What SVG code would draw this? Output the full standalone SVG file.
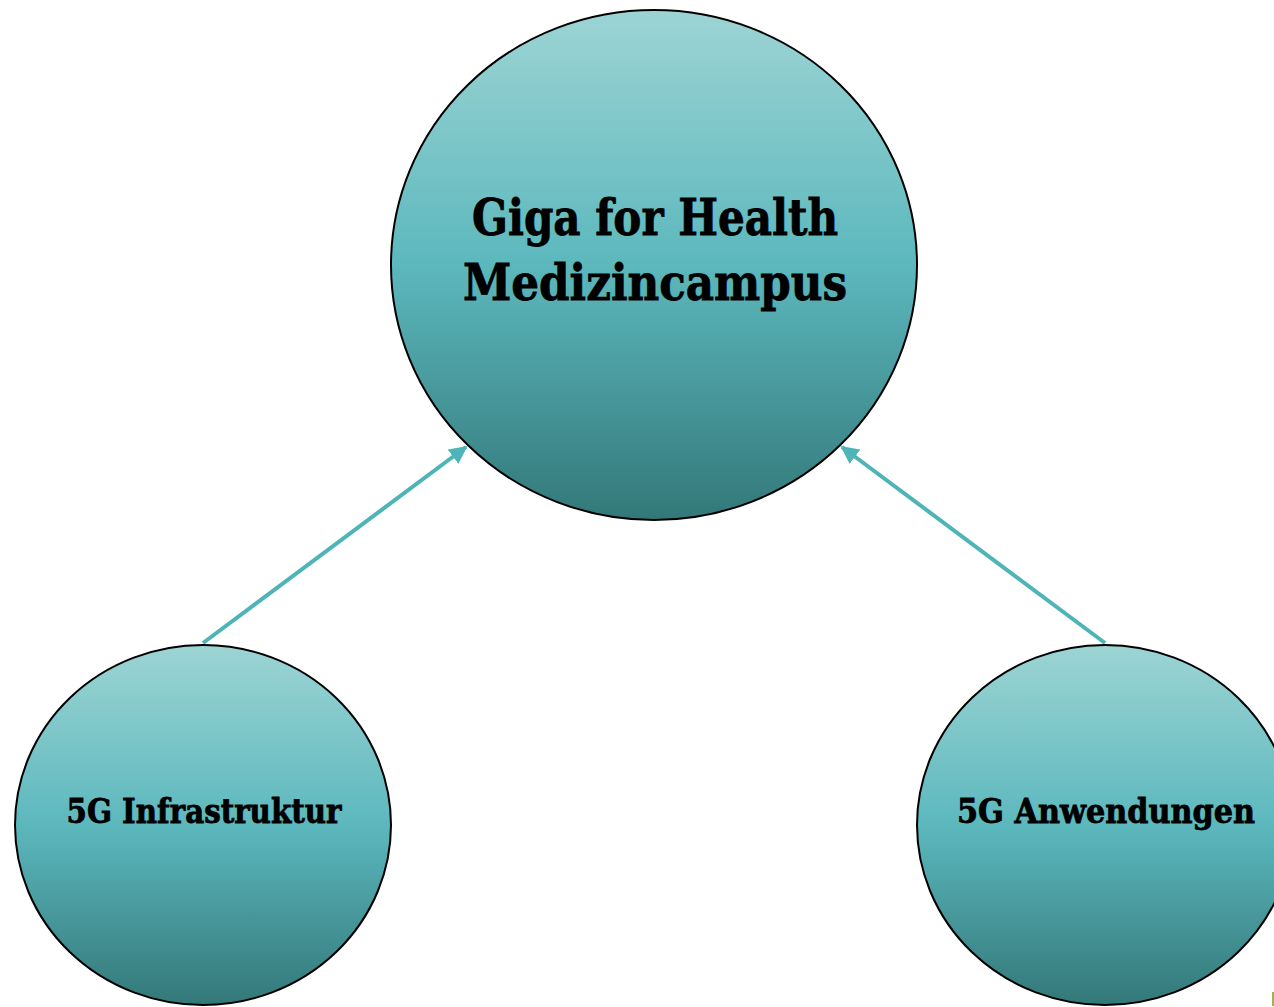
<svg xmlns="http://www.w3.org/2000/svg" width="1274" height="1007" viewBox="0 0 1274 1007">
<defs>
<linearGradient id="g" x1="0" y1="0" x2="0" y2="1">
<stop offset="0" stop-color="#9dd4d4"/>
<stop offset="0.5" stop-color="#5cb8bd"/>
<stop offset="1" stop-color="#337879"/>
</linearGradient>
<marker id="ah" viewBox="0 0 10 10" refX="9" refY="5" markerWidth="4.5" markerHeight="4.5" orient="auto" markerUnits="strokeWidth">
<path d="M0,0 L10,5 L0,10 z" fill="#4fb4b8"/>
</marker>
</defs>
<style>
.node{fill:url(#g);stroke:#000;stroke-width:2}
.t{font-family:"DejaVu Serif","Liberation Serif",serif;font-weight:bold;fill:#000;stroke:#000;stroke-width:0.8;text-anchor:middle}
.c{stroke:#4fb4b8;stroke-width:4;fill:none;marker-end:url(#ah)}
</style>
<rect width="1274" height="1007" fill="#fff"/>
<g id="connectors">
<line class="c" x1="203" y1="643" x2="466" y2="447"/>
<line class="c" x1="1105" y1="643" x2="842" y2="447"/>
</g>
<g id="main">
<ellipse class="node" cx="654" cy="265" rx="263" ry="255"/>
<text class="t" x="655" y="235" font-size="50" textLength="366" lengthAdjust="spacingAndGlyphs">Giga for Health</text>
<text class="t" x="655" y="300" font-size="50" textLength="384" lengthAdjust="spacingAndGlyphs">Medizincampus</text>
</g>
<g id="infra">
<ellipse class="node" cx="203" cy="825" rx="188" ry="180"/>
<text class="t" x="204" y="823" font-size="33" textLength="275" lengthAdjust="spacingAndGlyphs">5G Infrastruktur</text>
</g>
<g id="anw">
<ellipse class="node" cx="1105" cy="825" rx="188" ry="180"/>
<text class="t" x="1106" y="823" font-size="33" textLength="298" lengthAdjust="spacingAndGlyphs">5G Anwendungen</text>
</g>
<rect x="1272" y="992" width="2" height="14" fill="#9db35a"/>
</svg>
